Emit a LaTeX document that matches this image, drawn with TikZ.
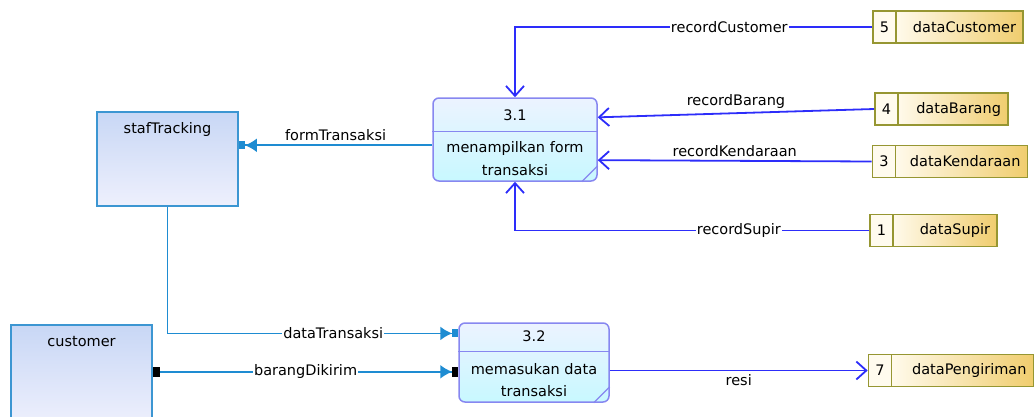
\documentclass[tikz,border=0pt]{standalone}
\usepackage{fontspec}
\setmainfont{DejaVu Sans}
\usetikzlibrary{arrows.meta,positioning}
\definecolor{flowblue}{RGB}{45,45,250}
\definecolor{flowteal}{RGB}{30,140,210}
\definecolor{extedge}{RGB}{60,150,210}
\definecolor{exttop}{RGB}{200,215,245}
\definecolor{extbottom}{RGB}{238,240,253}
\definecolor{procedge}{RGB}{135,135,240}
\definecolor{proctop}{RGB}{236,243,255}
\definecolor{procbottom}{RGB}{200,248,255}
\definecolor{dsedge}{RGB}{150,150,50}
\definecolor{dsnumfill}{RGB}{255,251,238}
\definecolor{dsleft}{RGB}{255,250,235}
\definecolor{dsright}{RGB}{240,205,110}
\begin{document}
\begin{tikzpicture}[x=1pt,y=-1pt,font=\fontsize{14.5}{22}\selectfont,
    extbox/.style={draw=extedge,line width=1.8pt,top color=exttop,bottom color=extbottom,minimum width=141pt,minimum height=94pt},
    procbox/.style={draw=procedge,line width=1.5pt,rounded corners=6pt,top color=proctop,bottom color=procbottom},
    dsnum/.style={draw=dsedge,line width=1.7pt,fill=dsnumfill,minimum width=23pt,minimum height=32pt,inner sep=0pt},
    dsname/.style={draw=dsedge,line width=1.7pt,left color=dsleft,right color=dsright,minimum height=32pt,inner xsep=7pt,align=right},
    recflow/.style={draw=flowblue,line width=1.8pt,-{Straight Barb[length=10pt,width=18pt]}},
    inflow/.style={draw=flowteal,line width=1.8pt,-{Latex[length=12pt,width=14pt] Rectangle[length=6pt,width=8pt]}},
    flowlbl/.style={fill=white,inner sep=1pt,text=black}]
  \clip (0,0) rectangle (1035,416);

  % external entities
  \node[extbox] (staf) at (167.5,159) {};
  \node[anchor=north] (staflbl) at ([yshift=-8pt]staf.north) {stafTracking};
  \node[extbox,minimum height=100pt] (cust) at (81.5,375) {};
  \node[anchor=north] (custlbl) at ([yshift=-9pt]cust.north) {customer};

  % processes
  \node[procbox,minimum width=164pt,minimum height=83pt] (p31) at (515,139.5) {};
  \draw[procedge,line width=1.5pt] ([yshift=-34pt]p31.north west) -- ([yshift=-34pt]p31.north east);
  \draw[procedge,line width=1.2pt] ([xshift=-16pt]p31.south east) -- ([yshift=16pt]p31.south east);
  \node (p31num) at (515,115) {3.1};
  \node[align=center,font=\fontsize{14.5}{23}\selectfont] (p31txt) at (515,158.5) {menampilkan form\\transaksi};

  \node[procbox,minimum width=150pt,minimum height=79pt] (p32) at (534,362.5) {};
  \draw[procedge,line width=1.5pt] ([yshift=-29pt]p32.north west) -- ([yshift=-29pt]p32.north east);
  \draw[procedge,line width=1.2pt] ([xshift=-16pt]p32.south east) -- ([yshift=16pt]p32.south east);
  \node (p32num) at (534,336) {3.2};
  \node[align=center] (p32txt) at (534,380) {memasukan data\\transaksi};

  % data stores
  \node[dsnum] (n5) at (884.5,27) {5};
  \node[dsname,text width=113pt,right=-1.7pt of n5] (ds5) {dataCustomer};
  \node[dsnum] (n4) at (886.5,109) {4};
  \node[dsname,text width=96pt,right=-1.7pt of n4] (ds4) {dataBarang};
  \node[dsnum] (n3) at (884,161.5) {3};
  \node[dsname,text width=118pt,right=-1.7pt of n3] (ds3) {dataKendaraan};
  \node[dsnum] (n1) at (881.5,230.5) {1};
  \node[dsname,text width=90pt,right=-1.7pt of n1] (ds1) {dataSupir};
  \node[dsnum] (n7) at (880,370.5) {7};
  \node[dsname,text width=128pt,right=-1.7pt of n7] (ds7) {dataPengiriman};

  % flows
  \draw[recflow] (n5.west) -| node[flowlbl,pos=0.2] (lblcust) {recordCustomer} (p31.north);
  \draw[recflow] (n4.west) -- node[above] (lblbarang) {recordBarang} (p31.15);
  \draw[recflow] (n3.west) -- node[above] (lblkend) {recordKendaraan} (p31.-14);
  \draw[recflow] (n1.west) -| node[flowlbl,pos=0.184] (lblsupir) {recordSupir} (p31.south);
  \draw[inflow] (p31.184) -- node[above] (lblform) {formTransaksi} (p31.184 -| staf.east);
  \draw[inflow] (staf.south) |- node[flowlbl,pos=0.785] (lbldata) {dataTransaksi} (p32.159);
  \draw[inflow,{Rectangle[length=7pt,width=10pt,color=black]}-{Latex[length=12pt,width=14pt] Rectangle[length=6pt,width=10pt,color=black]}] (p32.187 -| cust.east) -- node[flowlbl] (lblkirim) {barangDikirim} (p32.187);
  \draw[recflow] (p32.east |- n7.west) -- node[below] (lblresi) {resi} (n7.west);
\end{tikzpicture}
\end{document}
